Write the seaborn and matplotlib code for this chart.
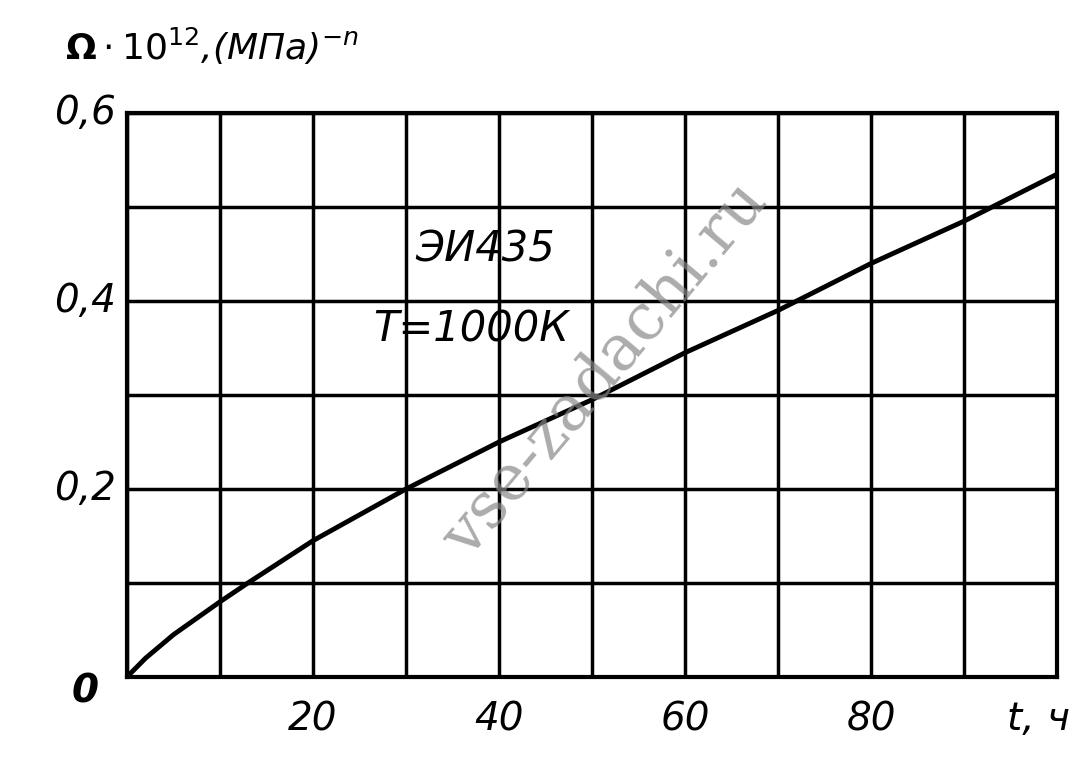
import matplotlib
matplotlib.use("Agg")
import matplotlib.pyplot as plt
import seaborn as sns
import pandas as pd

t_hours = [0, 2, 5, 10, 13, 20, 30, 40, 50, 60, 70, 80, 90, 100]
omega = [0, 0.02, 0.045, 0.08, 0.1, 0.145, 0.2, 0.25, 0.295, 0.345, 0.39, 0.44, 0.485, 0.535]
x_ticks = [20, 40, 60, 80]
y_ticks = [0.2, 0.4, 0.6]
y_labels = ["0,2", "0,4", "0,6"]

sns.set_theme(style="white")
plt.rcParams['font.family'] = ['DejaVu Sans']
plt.rcParams['text.color'] = 'black'
fig = plt.figure(figsize=(10.9, 7.79), dpi=100)
ax = fig.add_axes([0.1165, 0.131, 0.8535, 0.724])
df = pd.DataFrame({"t": t_hours, "w": omega})
sns.lineplot(data=df, x="t", y="w", ax=ax, color="black", lw=3.5)
ax.set_xlim(0, 100)
ax.set_ylim(0, 0.6)
ax.set_xticks(range(0, 101, 10))
ax.set_yticks([i / 10 for i in range(7)])
ax.grid(True, color="black", lw=2.5)
for s in ax.spines.values():
    s.set_color("black"); s.set_linewidth(3)
ax.set_xticklabels([]); ax.set_yticklabels([])
ax.tick_params(length=0)
ax.set_xlabel(""); ax.set_ylabel("")
fs = 28
for v in x_ticks:
    ax.text(v, -0.045, str(v), ha="center", va="center", fontsize=fs, style="italic", clip_on=False)
for v, l in zip(y_ticks, y_labels):
    ax.text(-4.5, v, l, ha="center", va="center", fontsize=fs, style="italic", clip_on=False)
ax.text(-4.5, -0.015, "0", ha="center", va="center", fontsize=fs, style="italic", fontweight="bold", clip_on=False)
ax.text(98, -0.045, "t, ч", ha="center", va="center", fontsize=fs, style="italic", clip_on=False)
fig.text(0.06, 0.94, r"$\mathbf{\Omega}\cdot10^{12}$,(МПа)$^{-n}$", fontsize=26, style="italic", ha="left", va="center")
ax.text(38.5, 0.455, "ЭИ435", fontsize=30, style="italic", ha="center", va="center")
ax.text(37, 0.37, "T=1000К", fontsize=30, style="italic", ha="center", va="center")
fig.text(0.555, 0.525, "vse-zadachi.ru", fontsize=46, family="DejaVu Serif", color="#888888",
         alpha=0.7, rotation=50, ha="center", va="center")
fig.savefig("out.png", dpi=100, facecolor="white")
